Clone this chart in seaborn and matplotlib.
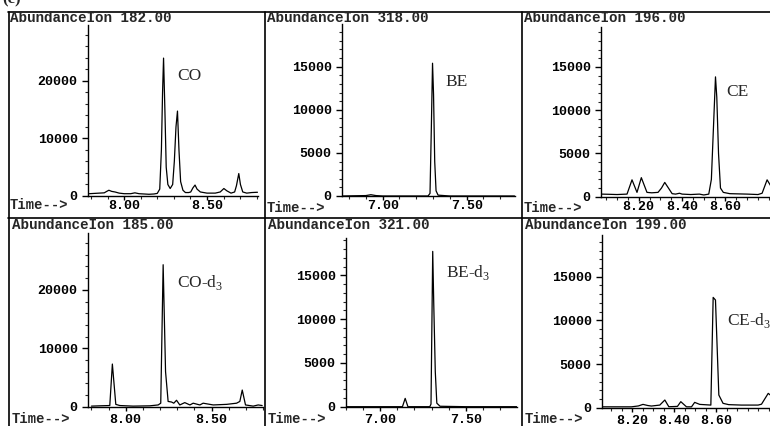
import matplotlib
matplotlib.use("Agg")
import matplotlib.pyplot as plt
import seaborn as sns
import pandas as pd
from matplotlib.ticker import MultipleLocator, FixedLocator, FormatStrFormatter
from matplotlib.lines import Line2D

sns.set_style("white")
plt.rcParams["font.family"] = ["Liberation Mono", "DejaVu Sans Mono"]

# ---------------- data ----------------
# Ion 182.00 (CO)
co_t = [7.79, 7.82, 7.85, 7.88, 7.895, 7.908, 7.925, 7.945, 7.97, 8.00, 8.04, 8.065, 8.09, 8.12,
        8.15, 8.18, 8.20, 8.215, 8.225, 8.232, 8.238, 8.246, 8.254, 8.264, 8.278, 8.293, 8.303,
        8.313, 8.322, 8.331, 8.341, 8.355, 8.37, 8.39, 8.402, 8.415, 8.428, 8.44, 8.46, 8.50,
        8.55, 8.58, 8.602, 8.62, 8.645, 8.667, 8.678, 8.692, 8.702, 8.716, 8.74, 8.77, 8.805]
co_a = [400, 450, 500, 550, 800, 1000, 800, 700, 500, 400, 400, 550, 400, 350,
        300, 350, 450, 1200, 8000, 18000, 23950, 15000, 5000, 2000, 1300, 2000, 6000,
        12000, 14750, 8000, 2500, 1000, 600, 600, 700, 1400, 1900, 1200, 700, 500,
        500, 700, 1300, 900, 500, 700, 1800, 3900, 2000, 700, 500, 600, 650]

# Ion 318.00 (BE)
be_t = [6.76, 6.90, 6.93, 6.96, 7.00, 7.27, 7.282, 7.290, 7.297, 7.303, 7.310, 7.318, 7.33, 7.40, 7.785]
be_a = [0, 50, 150, 50, 0, 0, 300, 8000, 15400, 11800, 4000, 600, 100, 0, 0]

# Ion 196.00 (CE)
ce_t = [8.027, 8.06, 8.10, 8.146, 8.169, 8.192, 8.212, 8.238, 8.26, 8.289, 8.305, 8.320, 8.337,
        8.354, 8.37, 8.388, 8.40, 8.44, 8.48, 8.50, 8.523, 8.535, 8.554, 8.560, 8.568, 8.577,
        8.59, 8.62, 8.70, 8.75, 8.769, 8.792, 8.81]
ce_a = [300, 280, 250, 300, 1950, 500, 2200, 500, 450, 500, 1000, 1650, 1000,
        350, 300, 400, 300, 250, 300, 200, 300, 2000, 13850, 11500, 5000, 1000,
        500, 350, 300, 250, 400, 1950, 1200]

# Ion 185.00 (CO-d3)
cod_t = [7.80, 7.848, 7.907, 7.922, 7.942, 7.965, 8.043, 8.140, 8.189, 8.204, 8.218, 8.232,
         8.247, 8.267, 8.280, 8.296, 8.315, 8.344, 8.374, 8.393, 8.432, 8.451, 8.510, 8.588,
         8.646, 8.665, 8.679, 8.698, 8.743, 8.772, 8.795]
cod_a = [100, 150, 200, 7300, 400, 200, 100, 150, 300, 600, 24300, 6000,
         900, 800, 600, 1100, 300, 700, 300, 600, 300, 600, 300, 400,
         600, 900, 2850, 300, 100, 300, 200]

# Ion 321.00 (BE-d3)
bed_t = [6.80, 7.00, 7.130, 7.146, 7.162, 7.29, 7.297, 7.307, 7.313, 7.322, 7.331, 7.35, 7.50, 7.798]
bed_a = [0, 0, 0, 950, 0, 0, 300, 17750, 11800, 4000, 400, 50, 0, 0]

# Ion 199.00 (CE-d3)
ced_t = [8.058, 8.10, 8.197, 8.230, 8.252, 8.275, 8.292, 8.332, 8.356, 8.375, 8.416, 8.432,
         8.459, 8.483, 8.498, 8.522, 8.575, 8.586, 8.597, 8.613, 8.633, 8.66, 8.72, 8.80,
         8.816, 8.848, 8.866]
ced_a = [100, 100, 100, 200, 380, 250, 190, 300, 880, 110, 150, 690,
         100, 100, 610, 380, 300, 12630, 12330, 1450, 500, 350, 300, 300,
         400, 1640, 1300]

ions = ["Ion 182.00", "Ion 318.00", "Ion 196.00", "Ion 185.00", "Ion 321.00", "Ion 199.00"]
compounds = ["CO", "BE", "CE", r"CO-d$_\mathregular{3}$", r"BE-d$_\mathregular{3}$", r"CE-d$_\mathregular{3}$"]
series = [(co_t, co_a), (be_t, be_a), (ce_t, ce_a), (cod_t, cod_a), (bed_t, bed_a), (ced_t, ced_a)]

# labelled time ticks per panel
xticks_co = [8.00, 8.50]
xticks_be = [7.00, 7.50]
xticks_ce = [8.20, 8.40, 8.60]
xticks = [xticks_co, xticks_be, xticks_ce, xticks_co, xticks_be, xticks_ce]

# ---------------- layout (pixels) ----------------
W, H = 770, 426
fig = plt.figure(figsize=(W / 100, H / 100), dpi=100)
fig.patch.set_facecolor("white")

def fx(x):
    return x / W

def fy(y):
    return 1 - y / H

# axes boxes: left, right, bottom, top in pixels
boxes = [(88, 258, 196, 25), (342, 515, 196, 24), (601, 771, 196.7, 27),
         (88, 263, 406.7, 233), (346, 516.7, 406.7, 238), (602, 772, 407.7, 235)]
xlims = [(7.782, 8.808), (6.758, 7.788), (8.026, 8.810),
         (7.780, 8.800), (6.800, 7.798), (8.057, 8.866)]
ylims = [29700, 19950, 19615, 29730, 19280, 19775]
ymaj = [10000, 5000, 5000, 10000, 5000, 5000]
ymin = [2000, 1000, 1000, 2000, 1000, 1000]
xmin = [0.1, 0.1, 0.05, 0.1, 0.1, 0.05]
xpad = [0.0, 0.0, 0.0, 2.3, 2.3, 2.3]
head_x = [10, 267, 524, 12, 268, 525]
head_y = [18, 18, 18, 225, 225, 225]
time_y = [205, 208.5, 208.5, 419, 419, 419]
ann_xy = [(177, 76), (445, 82), (726, 92), (177, 283), (446, 272), (727, 320)]

for i, (t, a) in enumerate(series):
    l, r, b, tp = boxes[i]
    ax = fig.add_axes([fx(l), fy(b), (r - l) / W, (b - tp) / H])
    ax.set_facecolor("none")
    df = pd.DataFrame({"time": t, "abundance": a})
    sns.lineplot(data=df, x="time", y="abundance", ax=ax, color="black",
                 linewidth=0.9, estimator=None, sort=False)
    ax.set_xlim(*xlims[i])
    ax.set_ylim(0, ylims[i])
    ax.set_xlabel("")
    ax.set_ylabel("")
    for s in ["top", "right"]:
        ax.spines[s].set_visible(False)
    for s in ["left", "bottom"]:
        ax.spines[s].set_linewidth(1.0)
        ax.spines[s].set_color("black")
    ax.xaxis.set_major_locator(FixedLocator(xticks[i]))
    ax.xaxis.set_minor_locator(MultipleLocator(xmin[i]))
    ax.yaxis.set_major_locator(MultipleLocator(ymaj[i]))
    ax.yaxis.set_minor_locator(MultipleLocator(ymin[i]))
    ax.xaxis.set_major_formatter(FormatStrFormatter("%.2f"))
    ax.yaxis.set_major_formatter(FormatStrFormatter("%d"))
    ax.tick_params(axis="both", which="major", direction="out", width=1.0,
                   labelsize=9.5, colors="black", bottom=True, left=True)
    ax.tick_params(axis="both", which="minor", direction="out", length=2.2, width=0.8,
                   bottom=True, left=True)
    ax.tick_params(axis="x", which="major", length=3.0, pad=xpad[i])
    ax.tick_params(axis="y", which="major", length=4.5, pad=3)
    for lab in ax.get_xticklabels() + ax.get_yticklabels():
        lab.set_fontweight("bold")
        lab.set_family(["Liberation Mono", "DejaVu Sans Mono"])

    fig.text(fx(head_x[i]), fy(head_y[i]), "Abundance" + ions[i], fontsize=10.3,
             fontweight="bold", va="center", ha="left",
             family=["Liberation Mono", "DejaVu Sans Mono"])
    fig.text(fx(head_x[i]), fy(time_y[i]), "Time-->", fontsize=10.0,
             fontweight="bold", va="center", ha="left",
             family=["Liberation Mono", "DejaVu Sans Mono"])
    axx, axy = ann_xy[i]
    fig.text(fx(axx), fy(axy), compounds[i], fontsize=12.5, va="center", ha="left",
             family=["Liberation Serif", "DejaVu Serif"])

# panel frames
frame_kw = dict(color="black", linewidth=1.2, transform=fig.transFigure)
fig.add_artist(Line2D([fx(8), fx(770)], [fy(12), fy(12)], **frame_kw))
fig.add_artist(Line2D([fx(8), fx(770)], [fy(218), fy(218)], **frame_kw))
for xv in [9, 265, 522]:
    fig.add_artist(Line2D([fx(xv), fx(xv)], [fy(12), fy(426)], **frame_kw))

# panel letter, mostly cut off at the top edge
fig.text(fx(2), fy(-1), "(c)", fontsize=12, fontweight="bold", va="center", ha="left",
         family=["Liberation Serif", "DejaVu Serif"])

fig.savefig("out.png", dpi=100, facecolor="white")
